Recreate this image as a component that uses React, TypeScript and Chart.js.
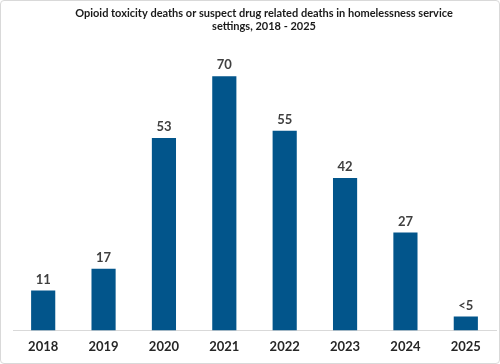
import React, { useEffect, useRef } from "react";
import { Chart, registerables } from "chart.js";

Chart.register(...registerables);

const years = ["2018", "2019", "2020", "2021", "2022", "2023", "2024", "2025"];
const deaths = [11, 17, 53, 70, 55, 42, 27, 3.8];
const valueLabels = ["11", "17", "53", "70", "55", "42", "27", "<5"];
const titleLines = [
  "Opioid toxicity deaths or suspect drug related deaths in homelessness service",
  "settings, 2018 - 2025",
];

const FONT = "Lato, 'Open Sans', sans-serif";

const titlePlugin = {
  id: "customTitle",
  afterDraw(chart: any) {
    const ctx = chart.ctx;
    ctx.save();
    ctx.fillStyle = "#1a1a1a";
    ctx.font = `bold 11px ${FONT}`;
    ctx.textAlign = "center";
    ctx.textBaseline = "middle";
    ctx.fillText(titleLines[0], 264, 13);
    ctx.fillText(titleLines[1], 264, 26.5);
    ctx.restore();
  },
};

const labelPlugin = {
  id: "valueLabels",
  afterDatasetsDraw(chart: any) {
    const ctx = chart.ctx;
    const meta = chart.getDatasetMeta(0);
    ctx.save();
    ctx.fillStyle = "#404040";
    ctx.font = `bold 13px ${FONT}`;
    ctx.textAlign = "center";
    ctx.textBaseline = "middle";
    meta.data.forEach((bar: any, i: number) => {
      ctx.fillText(valueLabels[i], bar.x, bar.y - 11);
    });
    ctx.restore();
  },
};

export default function App() {
  const ref = useRef<HTMLCanvasElement>(null);
  useEffect(() => {
    if (!ref.current) return;
    const chart = new Chart(ref.current, {
      type: "bar",
      data: {
        labels: years,
        datasets: [
          {
            data: deaths,
            backgroundColor: "#02558B",
            borderWidth: 0,
            barPercentage: 0.4,
            categoryPercentage: 1,
          },
        ],
      },
      options: {
        animation: false,
        responsive: false,
        maintainAspectRatio: false,
        layout: { padding: { top: 40, left: 13, right: 4, bottom: 0 } },
        plugins: { legend: { display: false }, tooltip: { enabled: false }, title: { display: false } },
        scales: {
          x: {
            grid: { display: false, drawTicks: false },
            border: { display: true, color: "#d9d9d9", width: 1 },
            ticks: { color: "#262626", font: { family: FONT, size: 13, weight: "bold" }, padding: 9 },
          },
          y: { display: false, min: 0, max: 80 },
        },
      },
      plugins: [titlePlugin, labelPlugin],
    });
    return () => chart.destroy();
  }, []);
  return (
    <div style={{ position: "fixed", left: 0, top: 0, width: 500, height: 364, background: "#fff" }}>
      <canvas ref={ref} width={500} height={364} style={{ display: "block" }} />
      <div
        style={{
          position: "absolute",
          left: 0,
          top: 0,
          width: 498,
          height: 362,
          border: "1px solid #d9d9d9",
          borderRadius: 4,
          pointerEvents: "none",
        }}
      />
    </div>
  );
}
